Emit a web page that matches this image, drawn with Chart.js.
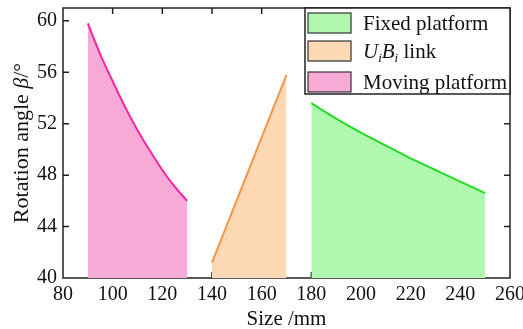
<!DOCTYPE html>
<html>
<head>
<meta charset="utf-8">
<script src="https://cdn.jsdelivr.net/npm/chart.js@4/dist/chart.umd.min.js"></script>
<style>
  html, body { margin: 0; padding: 0; background: #fff; }
  #wrap { width: 523px; height: 329px; }
</style>
</head>
<body>
<div id="wrap"><canvas id="c" width="523" height="329"></canvas></div>
<script>
// values
const movingX = [90, 95, 100, 105, 110, 115, 120, 125, 130];
const movingY = [59.8, 57.4, 55.3, 53.3, 51.5, 49.9, 48.4, 47.1, 46.0];
const linkX = [140, 170];
const linkY = [41.2, 55.8];
const fixedX = [180, 190, 200, 210, 220, 230, 240, 250];
const fixedY = [53.6, 52.4, 51.3, 50.3, 49.3, 48.4, 47.5, 46.6];

const xTicks = [80, 100, 120, 140, 160, 180, 200, 220, 240, 260];
const yTicks = [40, 44, 48, 52, 56, 60];

const FONT = "'Liberation Serif', 'DejaVu Serif', serif";

const pts = (xs, ys) => xs.map((x, i) => ({ x, y: ys[i] }));

const series = [
  { key: 'fixed',  label: 'Fixed platform',  data: pts(fixedX, fixedY),   line: '#22dd22', fill: '#b0f7b0' },
  { key: 'link',   label: 'UiBi link',       data: pts(linkX, linkY),     line: '#f5954a', fill: '#fdd8b5' },
  { key: 'moving', label: 'Moving platform', data: pts(movingX, movingY), line: '#f526a5', fill: '#f7aad6' },
];

/* ── frame, inward ticks, titles, legend ───────────────────────────── */
const decorations = {
  id: 'decorations',
  beforeDatasetsDraw(chart) {
    const { ctx, chartArea: a, scales } = chart;
    ctx.save();
    ctx.strokeStyle = '#222';
    ctx.lineWidth = 1.5;
    ctx.strokeRect(a.left, a.top, a.right - a.left, a.bottom - a.top);
    ctx.beginPath();
    xTicks.forEach(v => {
      const px = scales.x.getPixelForValue(v);
      if (px <= a.left + 1 || px >= a.right - 1) return;
      ctx.moveTo(px, a.top); ctx.lineTo(px, a.top + 6);
      ctx.moveTo(px, a.bottom); ctx.lineTo(px, a.bottom - 6);
    });
    yTicks.forEach(v => {
      const py = scales.y.getPixelForValue(v);
      if (py >= a.bottom - 1 || py <= a.top + 1) return;
      ctx.moveTo(a.left, py); ctx.lineTo(a.left + 6, py);
      ctx.moveTo(a.right, py); ctx.lineTo(a.right - 6, py);
    });
    ctx.stroke();
    ctx.restore();
  },
  afterDraw(chart) {
    const { ctx, chartArea: a } = chart;
    ctx.save();
    ctx.fillStyle = '#111';
    ctx.textBaseline = 'alphabetic';

    // x title
    ctx.font = `21px ${FONT}`;
    ctx.textAlign = 'center';
    ctx.fillText('Size /mm', (a.left + a.right) / 2, 325);

    // y title with italic beta
    ctx.translate(28, (a.top + a.bottom) / 2);
    ctx.rotate(-Math.PI / 2);
    const parts = [
      { t: 'Rotation angle ', f: `22px ${FONT}` },
      { t: 'β', f: `italic 22px ${FONT}` },
      { t: '/°', f: `22px ${FONT}` },
    ];
    let w = 0;
    parts.forEach(p => { ctx.font = p.f; w += ctx.measureText(p.t).width; });
    let x = -w / 2;
    ctx.textAlign = 'left';
    parts.forEach(p => { ctx.font = p.f; ctx.fillText(p.t, x, 0); x += ctx.measureText(p.t).width; });
    ctx.setTransform(1, 0, 0, 1, 0, 0);

    // legend box
    const lx = 305, ly = a.top, lw = a.right - 305, lh = 86;
    ctx.fillStyle = '#fff';
    ctx.fillRect(lx, ly, lw, lh);
    ctx.strokeStyle = '#222';
    ctx.lineWidth = 1.5;
    ctx.strokeRect(lx, ly, lw, lh);
    const rows = [23, 51, 82];
    series.forEach((s, i) => {
      const cy = rows[i];
      ctx.fillStyle = s.fill;
      ctx.fillRect(308, cy - 10, 43, 20);
      ctx.strokeStyle = '#333';
      ctx.lineWidth = 1.2;
      ctx.strokeRect(308, cy - 10, 43, 20);
      ctx.fillStyle = '#111';
      const base = cy + 7;
      if (s.key === 'link') {
        let tx = 363;
        const seg = [
          { t: 'U', f: `italic 21px ${FONT}`, dy: 0 },
          { t: 'i', f: `italic 13px ${FONT}`, dy: 4 },
          { t: 'B', f: `italic 21px ${FONT}`, dy: 0 },
          { t: 'i', f: `italic 13px ${FONT}`, dy: 4 },
          { t: ' link', f: `21px ${FONT}`, dy: 0 },
        ];
        seg.forEach(p => { ctx.font = p.f; ctx.fillText(p.t, tx, base + p.dy); tx += ctx.measureText(p.t).width; });
      } else {
        ctx.font = `21px ${FONT}`;
        ctx.fillText(s.label, 363, base);
      }
    });
    ctx.restore();
  },
};

new Chart(document.getElementById('c'), {
  type: 'line',
  data: {
    datasets: series.map(s => ({
      label: s.label,
      data: s.data,
      borderColor: s.line,
      backgroundColor: s.fill,
      borderWidth: 2,
      pointRadius: 0,
      cubicInterpolationMode: 'monotone',
      fill: 'start',
    })),
  },
  options: {
    responsive: false,
    animation: false,
    layout: { padding: { top: 8, right: 13, left: 0, bottom: 0 } },
    plugins: { legend: { display: false }, tooltip: { enabled: false } },
    scales: {
      x: {
        type: 'linear',
        min: 80, max: 260,
        afterBuildTicks: sc => { sc.ticks = xTicks.map(v => ({ value: v })); },
        afterFit: sc => { sc.height = 51; sc.paddingLeft = 0; sc.paddingRight = 0; },
        ticks: { color: '#111', font: { family: FONT, size: 20 }, padding: 5, maxRotation: 0, autoSkip: false },
        grid: { display: false, drawTicks: false },
        border: { display: false },
      },
      y: {
        min: 40, max: 61,
        afterBuildTicks: sc => { sc.ticks = yTicks.map(v => ({ value: v })); },
        afterFit: sc => { sc.width = 63; sc.paddingTop = 0; sc.paddingBottom = 0; },
        ticks: { color: '#111', font: { family: FONT, size: 20 }, padding: 6, autoSkip: false },
        grid: { display: false, drawTicks: false },
        border: { display: false },
      },
    },
  },
  plugins: [decorations],
});
</script>
</body>
</html>
